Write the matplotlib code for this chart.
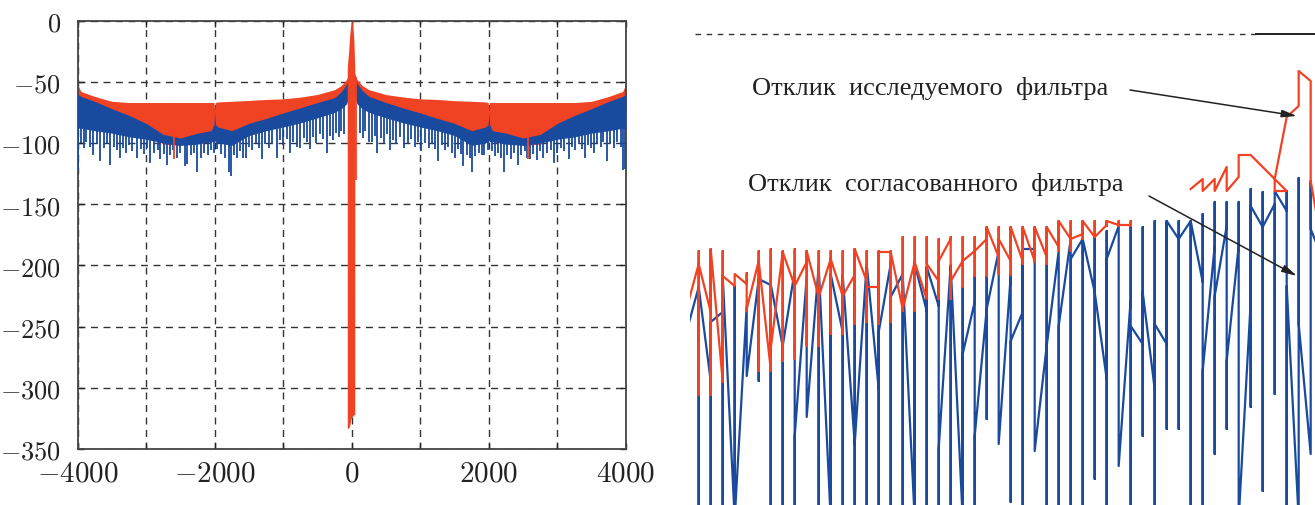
import numpy as np
import matplotlib.pyplot as plt

RED = '#EF4324'
BLUE = '#1A4A9E'

# ---- left panel: envelopes of the two spectra (dB)
env_x = [-4000, -3950, -3750, -3500, -3250, -3000, -2750, -2500, -2250, -2050, -2010, -2000, -1990,
         -1950, -1750, -1500, -1250, -1000, -750, -500, -250, -150, -75, -40, 0,
         40, 75, 150, 250, 500, 750, 1000, 1250, 1500, 1750, 1950, 1990, 2000, 2010,
         2050, 2250, 2500, 2750, 3000, 3250, 3500, 3750, 3950, 4000]
red_top = [-52, -58, -62, -66, -67, -67, -67, -67, -67, -67, -67, -74, -67,
           -66.5, -66, -65.3, -64.5, -64, -62.6, -60.4, -56.5, -53, -48, -43, -40,
           -43, -48, -53, -56.5, -60.5, -62.5, -64, -64.5, -65.5, -66, -66.5, -67, -74, -67,
           -67, -67, -67, -67, -67, -67, -66, -62, -58, -52]
red_low = [-70, -70, -74, -80, -86, -92, -101, -102, -97, -95, -92, -82, -92,
           -95, -95, -88, -84, -79, -75, -71, -66, -61, -55, -49, -42,
           -49, -55, -61, -66, -71, -75, -79, -84, -88, -95, -95, -92, -82, -92,
           -95, -97, -102, -101, -92, -86, -80, -74, -70, -70]
blue_top = [-60, -62, -66, -72, -77.5, -84, -93, -96, -92, -90, -85, -75, -85,
            -87, -90, -84, -80, -75.5, -71.3, -67, -63, -58, -52, -46, -37,
            -45, -51, -57, -62, -67, -71.5, -75.5, -80, -84, -90, -87, -85, -75, -85,
            -90, -92, -96, -93, -84, -77.5, -72, -66, -62, -60]
blue_low = [-88, -88, -90, -92, -95, -97, -100, -102, -101, -99, -99, -98, -99,
            -100, -102, -94, -90, -87, -83.6, -79.5, -75, -72, -68, -62, -55,
            -62, -68, -72, -75, -79.5, -83.6, -87, -90, -94, -102, -100, -99, -98, -99,
            -99, -101, -102, -100, -97, -95, -92, -90, -88, -88]

# single deep bins below the dense band
blue_spike_x = [-3990, -3950, -3910, -3870, -3820, -3767, -3720, -3669, -3620, -3570, -3523, -3470,
                -3420, -3378, -3330, -3290, -3250, -3200, -3134, -3080, -3030, -2985, -2940, -2880,
                -2830, -2794, -2740, -2697, -2650, -2600, -2550, -2500, -2433, -2405, -2350, -2300,
                -2259, -2200, -2150, -2100, -2050, -2003, -1960, -1900, -1850, -1790, -1760, -1720,
                -1680, -1630, -1580, -1545, -1500, -1450, -1400, -1350, -1313, -1260, -1210, -1160,
                -1094, -1050, -1000, -950, -900, -850, -800, -754, -700, -650, -608, -560, -520,
                -470, -420, -365, -320, -276, -230, -190, -150, -120,
                120, 160, 200, 250, 300, 340, 369, 420, 470, 510, 553, 600, 650, 700, 768, 820, 870,
                920, 970, 1014, 1070, 1120, 1170, 1210, 1260, 1310, 1360, 1410, 1460, 1505, 1550,
                1600, 1628, 1680, 1720, 1751, 1800, 1850, 1900, 1935, 1980, 2040, 2090, 2140, 2180,
                2224, 2270, 2320, 2370, 2427, 2470, 2520, 2560, 2600, 2650, 2700, 2750, 2796, 2850,
                2900, 2950, 3000, 3050, 3100, 3164, 3210, 3260, 3310, 3360, 3400, 3450, 3490, 3532,
                3580, 3630, 3670, 3716, 3770, 3820, 3870, 3920, 3962, 3990]
blue_spike_db = [-122, -100, -104, -99, -103, -110, -101, -115, -104, -100, -118, -103,
                 -106, -112, -104, -108, -102, -107, -112, -105, -109, -104, -116, -108,
                 -106, -113, -109, -118, -110, -106, -112, -108, -119, -117, -110, -108,
                 -124, -112, -108, -110, -106, -108, -105, -109, -112, -124, -127, -110,
                 -112, -107, -112, -112, -103, -106, -100, -104, -113, -101, -104, -100,
                 -112, -98, -102, -97, -108, -99, -103, -104, -96, -99, -105, -95, -100,
                 -93, -97, -108, -94, -98, -92, -95, -90, -93,
                 -92, -96, -90, -99, -99, -94, -108, -96, -100, -93, -106, -98, -101, -95, -104, -100, -97,
                 -103, -99, -107, -100, -104, -101, -105, -115, -102, -106, -103, -108, -112, -105,
                 -109, -119, -110, -112, -124, -111, -108, -110, -110, -106, -107, -111, -108, -112,
                 -124, -110, -113, -108, -118, -110, -107, -112, -113, -109, -114, -107, -112, -108,
                 -106, -116, -108, -104, -107, -113, -103, -106, -101, -105, -112, -102, -104, -108,
                 -100, -103, -99, -115, -101, -104, -99, -103, -122, -121]
red_spike_x = [-2590, 62, 2575]
red_spike_db = [-113, -130, -113]

# main lobe of the studied filter
lobe_x = [-66, -65, -45, -30, -15, 0, 15, 30, 44, 45]
lobe_top = [-42, -38, -25, -12, -4, 0, -4, -15, -38, -42]
lobe_low = [-42, -333, -333, -331, -326, -324, -323, -322, -322, -42]

# ---- right panel: zoom on the passband edge; per bin (k = -1..52):
# level on entering the bin, highest, lowest, level on leaving (screen depth units)
nan = np.nan
bins = list(range(-1, 53))
red_in = [309, 265, 313, 382, 287, 285, 262, 370, 253, 287, 263, 298, 260, 297, 276, 282, 288, 253,
          310, 263, 300, 282, 240, 262, 252, 240, 258, 262, 262, 262, 258, 248, 240, 235, 238, 226,
          226, 226] + [nan] * 16
red_hi = [309, 252, 250, 252, 275, 274, 252, 250, 252, 250, 252, 252, 252, 252, 250, 252, 252, 252,
          238, 238, 238, 240, 238, 238, 238, 228, 228, 228, 228, 228, 228, 222, 222, 222, 222, 222,
          222, 222] + [nan] * 16
red_lo = [309, 396, 396, 383, 287, 312, 372, 372, 362, 360, 347, 347, 335, 335, 325, 323, 325, 323,
          312, 312, 300, 300, 300, 288, 277, 277, 275, 276, 265, 263, 265, 252, 252, 240, 238, 227,
          227, 227] + [nan] * 16
red_out = [309, 265, 250, 277, 275, 310, 262, 350, 253, 287, 252, 298, 260, 297, 250, 288, 253, 253,
           310, 263, 265, 262, 282, 262, 252, 228, 240, 228, 228, 228, 228, 222, 240, 222, 238, 222,
           226, 226] + [nan] * 16

blue_in = [332, 288, 382, 313, 520, 307, 280, 286, 347, 272, 278, 267, 520, 333, 445, 265, 390, 265,
           275, 520, 312, 307, 267, 520, 303, 310, 252, 277, 313, 250, 347, 252, 240, 240, 293, 380,
           227, 300, 345, 390, 345, 240, 222, 283, 247, 227, 247, 303, 228, 205, 212, 520, 455, 260]
blue_hi = [332, 288, 323, 277, 287, 307, 280, 285, 347, 272, 278, 267, 275, 276, 276, 265, 285, 262,
           275, 265, 268, 268, 266, 288, 277, 277, 252, 275, 250, 250, 265, 252, 240, 240, 238, 232,
           227, 227, 228, 222, 222, 222, 222, 215, 203, 203, 203, 190, 193, 193, 192, 179, 182, 260]
blue_lo = [332, 520, 520, 520, 520, 377, 382, 520, 520, 520, 418, 520, 520, 520, 520, 520, 520, 520,
           520, 520, 520, 520, 520, 520, 520, 420, 445, 503, 520, 452, 520, 520, 520, 520, 480, 520,
           467, 520, 437, 520, 430, 430, 520, 520, 455, 430, 520, 408, 492, 395, 520, 455, 455, 260]
blue_out = [332, 288, 323, 277, 520, 377, 280, 285, 347, 437, 418, 267, 275, 276, 445, 265, 333, 298,
            275, 265, 268, 450, 267, 355, 437, 310, 445, 342, 250, 452, 347, 327, 260, 240, 293, 260,
            467, 327, 293, 325, 222, 240, 222, 372, 297, 362, 520, 207, 228, 192, 287, 325, 230, 260]

# studied filter near its peak (bins, depth)
tail_k = [41, 42, 42, 43, 43, 44, 44, 45, 45, 46, 48, 49, 48, 48, 49, 50, 50, 51, 51, 52]
tail_lv = [190, 180, 192, 180, 192, 168, 192, 178, 156, 156, 180, 192, 192, 180, 118, 107, 72, 82, 182, 250]

zero_level = 35


def bin_path(k, a, hi, lo, b):
    xs, ys = [], []
    for i in range(len(k)):
        xs += [k[i]] * 4
        ys += [a[i], hi[i], lo[i], b[i]]
    return xs, ys


plt.rcParams['mathtext.fontset'] = 'cm'
fig = plt.figure(figsize=(13.15, 5.06), dpi=100)

# ---------------- left: full spectrum
ax = fig.add_axes([77.5 / 1315, 1 - 450 / 506, 548.5 / 1315, 428.5 / 506])
ax.fill_between(env_x, red_low, red_top, color=RED, lw=0, zorder=2)
ax.fill_between(env_x, blue_low, blue_top, color=BLUE, lw=0, zorder=3)
ax.vlines(blue_spike_x, blue_spike_db, np.interp(blue_spike_x, env_x, blue_low) + 2,
          color=BLUE, lw=1.3, zorder=3)
ax.vlines(red_spike_x, red_spike_db, np.interp(red_spike_x, env_x, red_top),
          color=RED, lw=1.3, zorder=4)
ax.fill_between(lobe_x, lobe_low, lobe_top, color=RED, lw=0, zorder=4)

ax.set_xlim(-4000, 4000)
ax.set_ylim(-350, 0)
ax.set_xticks(range(-4000, 4001, 1000))
ax.set_xticklabels([r'$-4000$', '', r'$-2000$', '', r'$0$', '', r'$2000$', '', r'$4000$'])
ax.set_yticks(range(-350, 1, 50))
ax.set_yticklabels([r'$-%d$' % v if v else r'$0$' for v in range(350, -1, -50)])
ax.tick_params(direction='in', length=4, width=1, top=True, right=True,
               colors='#222222')
ax.tick_params(axis='x', labelsize=21, pad=7)
ax.tick_params(axis='y', labelsize=19, pad=12)
ax.grid(True, color='#333333', ls=(0, (5, 4)), lw=1)
for s in ax.spines.values():
    s.set_color('#444444')
    s.set_linewidth(1.3)

# ---------------- right: zoomed view
ax2 = fig.add_axes([690 / 1315, 0, 625 / 1315, 1])
ax2.set_xlim(-0.725, 51.36)
ax2.set_ylim(506, 0)
ax2.axis('off')

bx, by = bin_path(bins, blue_in, blue_hi, blue_lo, blue_out)
ax2.plot(bx, by, color=BLUE, lw=1.6, zorder=2)
rx, ry = bin_path(bins, red_in, red_hi, red_lo, red_out)
ax2.plot(rx, ry, color=RED, lw=1.6, zorder=3)
ax2.plot(tail_k, tail_lv, color=RED, lw=1.6, zorder=3)

ax2.axhline(zero_level, xmin=0.008, xmax=0.905, color='#333333', lw=1, ls=(0, (4, 4)))
ax2.axhline(zero_level, xmin=0.905, xmax=1.0, color='#222222', lw=1.4)

txt = dict(family=['Liberation Serif', 'DejaVu Serif'], fontsize=19, color='#222222', va='center')
fig.text(752 / 1315, 1 - 89 / 506, 'Отклик  исследуемого  фильтра', **txt)
fig.text(748 / 1315, 1 - 185 / 506, 'Отклик  согласованного  фильтра', **txt)
arrow = dict(arrowstyle='-|>,head_length=0.9,head_width=0.22', lw=1.1, color='#222222',
             shrinkA=0, shrinkB=0)
ax2.annotate('', xy=(49.86, 117), xytext=(1130 / 1315, 1 - 91 / 506),
             textcoords='figure fraction', arrowprops=arrow)
ax2.annotate('', xy=(49.86, 277), xytext=(1149 / 1315, 1 - 197 / 506),
             textcoords='figure fraction', arrowprops=arrow)

fig.savefig('out.png', dpi=100)
